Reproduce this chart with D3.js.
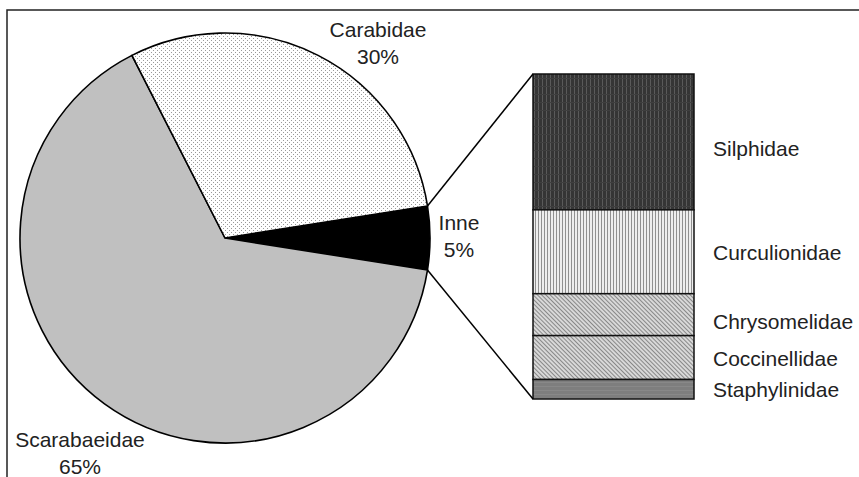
<!DOCTYPE html>
<html>
<head>
<meta charset="utf-8">
<script src="https://cdn.jsdelivr.net/npm/d3@7"></script>
<style>
  html, body { margin: 0; padding: 0; background: #fff; }
  svg { display: block; }
  text { font-family: "Liberation Sans", Arial, sans-serif; font-size: 21px; fill: #222; }
</style>
</head>
<body>
<svg id="chart" width="859" height="477"></svg>
<script>
// pie data (percent of all beetles)
const pieCategories = ['Inne', 'Scarabaeidae', 'Carabidae'];
const pieValues = [5, 65, 30];
const pieLabels = ['5%', '65%', '30%'];

// breakdown of "Inne" (bar, top to bottom)
const barCategories = ['Silphidae', 'Curculionidae', 'Chrysomelidae', 'Coccinellidae', 'Staphylinidae'];
const barValues = [41.8, 25.8, 12.9, 13.5, 6.0];

const W = 859, H = 477;
const svg = d3.select('#chart');

const defs = svg.append('defs');

// dotted fill for Carabidae
let p = defs.append('pattern').attr('id', 'dots')
  .attr('patternUnits', 'userSpaceOnUse').attr('width', 4).attr('height', 4);
p.append('rect').attr('width', 4).attr('height', 4).attr('fill', '#fff');
p.append('rect').attr('x', 0).attr('y', 0).attr('width', 1).attr('height', 1).attr('fill', '#999');
p.append('rect').attr('x', 2).attr('y', 2).attr('width', 1).attr('height', 1).attr('fill', '#999');

// dark vertical stripes (Silphidae)
p = defs.append('pattern').attr('id', 'darkv')
  .attr('patternUnits', 'userSpaceOnUse').attr('width', 4).attr('height', 8);
p.append('rect').attr('width', 4).attr('height', 8).attr('fill', '#353535');
p.append('rect').attr('x', 2).attr('width', 1).attr('height', 8).attr('fill', '#5a5a5a');
p.append('rect').attr('y', 6).attr('width', 4).attr('height', 1).attr('fill', '#3f3f3f');

// light vertical stripes (Curculionidae)
p = defs.append('pattern').attr('id', 'lightv')
  .attr('patternUnits', 'userSpaceOnUse').attr('width', 3).attr('height', 3);
p.append('rect').attr('width', 3).attr('height', 3).attr('fill', '#eeeeee');
p.append('rect').attr('x', 1).attr('width', 1).attr('height', 3).attr('fill', '#909090');

// diagonal hatch (Chrysomelidae, Coccinellidae)
p = defs.append('pattern').attr('id', 'hatch')
  .attr('patternUnits', 'userSpaceOnUse').attr('width', 3).attr('height', 3)
  .attr('patternTransform', 'rotate(-45)');
p.append('rect').attr('width', 3).attr('height', 3).attr('fill', '#d8d8d8');
p.append('rect').attr('width', 1).attr('height', 3).attr('fill', '#888');

// gray (Staphylinidae)
p = defs.append('pattern').attr('id', 'gray')
  .attr('patternUnits', 'userSpaceOnUse').attr('width', 4).attr('height', 4);
p.append('rect').attr('width', 4).attr('height', 4).attr('fill', '#7e7e7e');
p.append('rect').attr('y', 2).attr('width', 4).attr('height', 1).attr('fill', '#888');

const pieFills = ['#000', '#c0c0c0', 'url(#dots)'];
const barFills = ['url(#darkv)', 'url(#lightv)', 'url(#hatch)', 'url(#hatch)', 'url(#gray)'];

// frame (only left and top edges fall inside the picture)
svg.append('rect')
  .attr('x', 7).attr('y', 10)
  .attr('width', W + 20).attr('height', H + 20)
  .attr('fill', 'none').attr('stroke', '#222').attr('stroke-width', 1.5);

// ---- pie ----
const cx = 225, cy = 238, R = 205;
const half = Math.PI * pieValues[0] / 100; // half of the "Inne" angle
const start = Math.PI / 2 - half;

const pie = d3.pie().sort(null).value(d => d)
  .startAngle(start).endAngle(start + 2 * Math.PI);
const arcs = pie(pieValues);
const arc = d3.arc().innerRadius(0).outerRadius(R);

const pieG = svg.append('g').attr('transform', `translate(${cx},${cy})`);
pieG.selectAll('path.slice')
  .data(arcs)
  .enter()
  .append('path')
    .attr('class', 'slice')
    .attr('d', arc)
    .attr('fill', (d, i) => pieFills[i])
    .attr('stroke', '#000')
    .attr('stroke-width', 1.6)
    .attr('stroke-linejoin', 'round');

// ---- bar of "Inne" ----
const barX = 533, barW = 161;
const barTop = 74, barBottom = 399;
const y = d3.scaleLinear().domain([0, d3.sum(barValues)]).range([barTop, barBottom]);
let acc = 0;
const stack = barValues.map((v, i) => {
  const s = { name: barCategories[i], y0: acc, y1: acc + v, fill: barFills[i] };
  acc += v;
  return s;
});

const barG = svg.append('g');
barG.selectAll('rect.seg')
  .data(stack)
  .enter()
  .append('rect')
    .attr('class', 'seg')
    .attr('x', barX)
    .attr('y', d => y(d.y0))
    .attr('width', barW)
    .attr('height', d => y(d.y1) - y(d.y0))
    .attr('fill', d => d.fill)
    .attr('stroke', '#111')
    .attr('stroke-width', 1.5);

// connector lines from "Inne" edges to bar corners
const a0 = arcs[0].startAngle, a1 = arcs[0].endAngle;
const edge = a => [cx + R * Math.sin(a), cy - R * Math.cos(a)];
const e0 = edge(a0), e1 = edge(a1);
svg.append('line')
  .attr('x1', e0[0]).attr('y1', e0[1]).attr('x2', barX).attr('y2', y(0))
  .attr('stroke', '#000').attr('stroke-width', 1.5);
svg.append('line')
  .attr('x1', e1[0]).attr('y1', e1[1]).attr('x2', barX).attr('y2', y(d3.sum(barValues)))
  .attr('stroke', '#000').attr('stroke-width', 1.5);

// bar labels, a bit below segment middle like Excel does
barG.selectAll('text.seg-label')
  .data(stack)
  .enter()
  .append('text')
    .attr('class', 'seg-label')
    .attr('x', barX + barW + 19)
    .attr('y', (d, i) => (y(d.y0) + y(d.y1)) / 2 + (i === 0 || i === 2 ? 14 : 8))
    .text(d => d.name);

// pie labels (Excel places them outside end)
const labelAnchor = {
  Inne: [459, 230],
  Scarabaeidae: [80, 447],
  Carabidae: [378, 37]
};
const lab = svg.append('g').attr('text-anchor', 'middle');
pieCategories.forEach((c, i) => {
  const [lx, ly] = labelAnchor[c];
  lab.append('text').attr('x', lx).attr('y', ly).text(c);
  lab.append('text').attr('x', lx).attr('y', ly + 27).text(pieLabels[i]);
});
</script>
</body>
</html>
